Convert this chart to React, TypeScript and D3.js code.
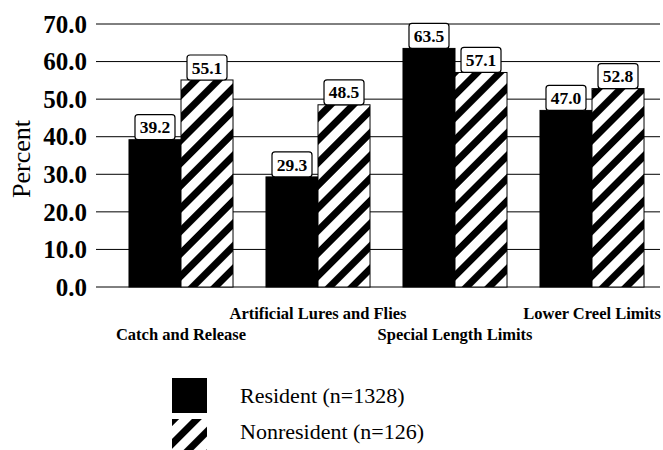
import React from 'react';
import * as d3 from 'd3';

const categories = ['Catch and Release', 'Artificial Lures and Flies', 'Special Length Limits', 'Lower Creel Limits'];
const series = ['Resident (n=1328)', 'Nonresident (n=126)'];
const residentValues = [39.2, 29.3, 63.5, 47.0];
const nonresidentValues = [55.1, 48.5, 57.1, 52.8];
const yTicks = [0, 10, 20, 30, 40, 50, 60, 70];

const App: React.FC = () => {
  const width = 663;
  const height = 450;
  const gridLeft = 96;
  const gridRight = 660;

  const x0 = d3.scaleBand<string>().domain(categories).range([112.5, 660.5]).padding(0);
  const x1 = d3.scaleBand<string>().domain(series).range([0, x0.bandwidth()]).paddingInner(0).paddingOuter(0.317);
  const y = d3.scaleLinear().domain([0, 70]).range([287, 24]);

  const rows = categories.map((c, i) => ({ cat: c, vals: [residentValues[i], nonresidentValues[i]] }));

  return (
    <svg
      width={width}
      height={height}
      style={{ position: 'absolute', left: 0, top: 0, background: '#fff', fontFamily: "'Liberation Serif', serif" }}
    >
      <defs>
        <pattern id="hatch" width="16" height="16" patternUnits="userSpaceOnUse" patternTransform="rotate(45)">
          <rect width="16" height="16" fill="#fff" />
          <rect x="0" y="0" width="7" height="16" fill="#000" />
        </pattern>
      </defs>

      {/* gridlines + tick labels */}
      {yTicks.map((t) => (
        <g key={t}>
          <line x1={gridLeft} x2={gridRight} y1={y(t)} y2={y(t)} stroke="#000" strokeWidth={1} />
          <text x={87} y={y(t)} dy="0.35em" textAnchor="end" fontSize={25} fontWeight="bold">
            {t.toFixed(1)}
          </text>
        </g>
      ))}

      <text transform={`translate(30, 159) rotate(-90)`} textAnchor="middle" fontSize={26}>
        Percent
      </text>

      {/* bars */}
      {rows.map((r) => (
        <g key={r.cat} transform={`translate(${x0(r.cat)},0)`}>
          {r.vals.map((v, j) => {
            const bx = x1(series[j])!;
            const bw = x1.bandwidth();
            const cx = bx + bw / 2;
            return (
              <g key={j}>
                <rect
                  x={bx}
                  y={y(v)}
                  width={bw}
                  height={y(0) - y(v)}
                  fill={j === 0 ? '#000' : 'url(#hatch)'}
                  stroke="#000"
                  strokeWidth={1}
                />
                <rect x={cx - 20} y={y(v) - 25} width={40} height={25} rx={3} fill="#fff" stroke="#000" strokeWidth={1.2} />
                <text x={cx} y={y(v) - 12.5} dy="0.35em" textAnchor="middle" fontSize={17.5} fontWeight="bold">
                  {v.toFixed(1)}
                </text>
              </g>
            );
          })}
        </g>
      ))}

      {/* category labels, staggered */}
      {categories.map((c, i) => {
        const cx = x0(c)! + x0.bandwidth() / 2;
        const last = i === categories.length - 1;
        return (
          <text
            key={c}
            x={last ? 661 : cx}
            y={i % 2 === 0 ? 340 : 319}
            textAnchor={last ? 'end' : 'middle'}
            fontSize={16.5}
            fontWeight="bold"
          >
            {c}
          </text>
        );
      })}

      {/* legend */}
      <rect x={172} y={378} width={35} height={35} fill="#000" />
      <text x={240} y={403} fontSize={22}>{series[0]}</text>
      <rect x={172} y={419} width={35} height={35} fill="url(#hatch)" />
      <text x={240} y={439} fontSize={22}>{series[1]}</text>
    </svg>
  );
};

export default App;
